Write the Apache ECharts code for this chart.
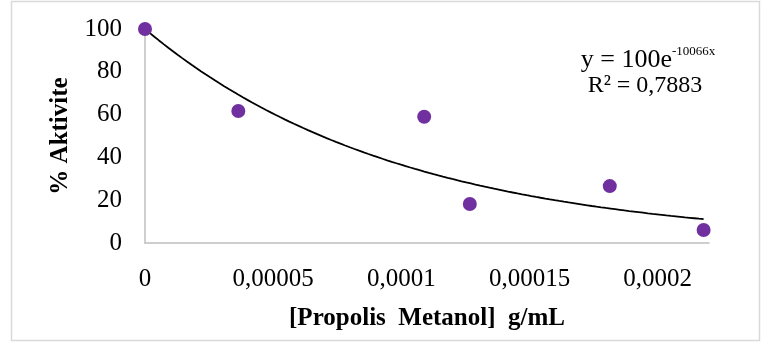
<!DOCTYPE html>
<html>
<head>
<meta charset="utf-8">
<script src="https://cdn.jsdelivr.net/npm/echarts@6/dist/echarts.min.js"></script>
<style>
  html, body { margin: 0; padding: 0; background: #fff; }
  #chart { width: 771px; height: 344px; }
</style>
</head>
<body>
<div id="chart"></div>
<script>
// Propolis methanol extract concentration (g/mL) vs. remaining activity (%)
const concentrations = [0, 0.0000364, 0.0001089, 0.0001267, 0.0001813, 0.0002179];
const activity = [100, 61.7, 59.0, 18.2, 26.6, 6.1];

// Exponential trendline y = A * e^(k x) as reported on the chart
const trendA = 100;
const trendK = -10066;
const trendR2 = '0,7883';

const xTicks = [0, 0.00005, 0.0001, 0.00015, 0.0002];
const yTicks = [0, 20, 40, 60, 80, 100];

const serif = '"Liberation Serif", "Times New Roman", serif';

// Sample the fitted curve across the measured range
const trendPoints = [];
const xEnd = concentrations[concentrations.length - 1];
const steps = 120;
for (let i = 0; i <= steps; i++) {
  const x = xEnd * i / steps;
  trendPoints.push([x, trendA * Math.exp(trendK * x)]);
}

function fmtComma(v) {
  if (v === 0) return '0';
  // short decimal form with a comma separator
  const s = v.toFixed(6).replace(/0+$/, '');
  return s.replace('.', ',');
}

const chart = echarts.init(document.getElementById('chart'), null, { renderer: 'canvas' });

chart.setOption({
  animation: false,
  backgroundColor: '#fff',
  grid: { left: 145, top: 29, right: 62, bottom: 101, containLabel: false },
  xAxis: {
    type: 'value',
    min: 0,
    max: 0.00022,
    interval: 0.00005,
    name: '[Propolis  Metanol]  g/mL',
    nameLocation: 'middle',
    nameGap: 63,
    nameTextStyle: { fontFamily: serif, fontSize: 25, fontWeight: 'bold', color: '#000' },
    axisLine: { show: true, onZero: true, lineStyle: { color: '#BFBFBF', width: 1.5 } },
    axisTick: { show: false },
    splitLine: { show: false },
    axisLabel: {
      show: true,
      showMaxLabel: false,
      margin: 24,
      fontFamily: serif,
      fontSize: 25,
      color: '#000',
      formatter: function (v) {
        return xTicks.some(t => Math.abs(t - v) < 1e-12) ? fmtComma(v) : '';
      }
    }
  },
  yAxis: {
    type: 'value',
    min: 0,
    max: 100,
    interval: 20,
    name: '% Aktivite',
    nameLocation: 'middle',
    nameGap: 72,
    nameTextStyle: { fontFamily: serif, fontSize: 25, fontWeight: 'bold', color: '#000' },
    axisLine: { show: true, lineStyle: { color: '#BFBFBF', width: 1.5 } },
    axisTick: { show: false },
    splitLine: { show: false },
    axisLabel: {
      margin: 23,
      verticalAlign: 'middle',
      lineHeight: 25,
      padding: [8, 0, 0, 0],
      fontFamily: serif,
      fontSize: 25,
      color: '#000',
      formatter: function (v) {
        return yTicks.indexOf(v) >= 0 ? String(v) : '';
      }
    }
  },
  series: [
    {
      name: 'Trend',
      type: 'line',
      data: trendPoints,
      showSymbol: false,
      smooth: false,
      lineStyle: { color: '#000', width: 1.8 },
      z: 2
    },
    {
      name: 'Aktivite',
      type: 'scatter',
      data: concentrations.map((x, i) => [x, activity[i]]),
      symbol: 'circle',
      symbolSize: 14,
      itemStyle: { color: '#7030A0', opacity: 1 },
      z: 3
    }
  ],
  graphic: [
    {
      type: 'rect',
      shape: { x: 11.5, y: 1.5, width: 748, height: 339 },
      style: { fill: 'none', stroke: '#D9D9D9', lineWidth: 1.5 },
      silent: true,
      z: -10
    },
    {
      type: 'text',
      x: 672,
      y: 60,
      style: {
        text: 'y = ' + trendA + 'e',
        font: '26px ' + serif,
        fill: '#000',
        align: 'right',
        verticalAlign: 'middle'
      }
    },
    {
      type: 'text',
      x: 672,
      y: 52,
      style: {
        text: String(trendK) + 'x',
        font: '13px ' + serif,
        fill: '#000',
        align: 'left',
        verticalAlign: 'middle'
      }
    },
    {
      type: 'text',
      x: 645,
      y: 86,
      style: {
        text: 'R² = ' + trendR2,
        font: '24px ' + serif,
        fill: '#000',
        align: 'center',
        verticalAlign: 'middle'
      }
    }
  ]
});
</script>
</body>
</html>
